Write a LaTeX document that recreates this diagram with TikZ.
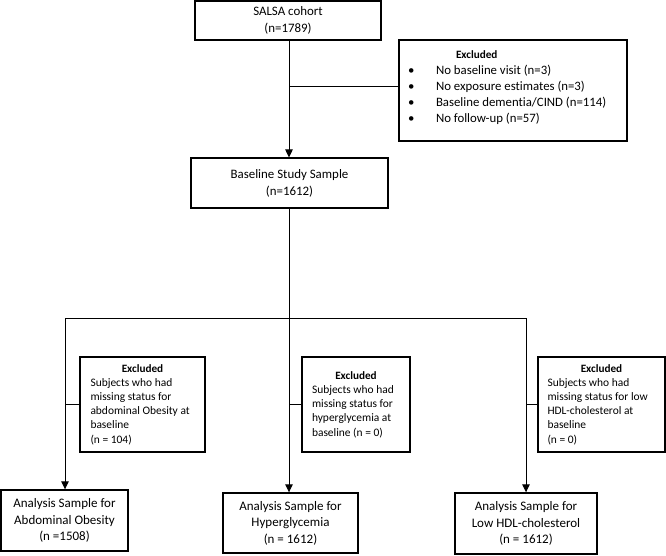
\documentclass[tikz,border=0pt]{standalone}
\usepackage{fontspec}
\setmainfont{Carlito}[Ligatures=NoCommon]
\usetikzlibrary{arrows.meta}
\begin{document}
\begin{tikzpicture}[x=1pt,y=-1pt,
  box/.style={draw, line width=1.1pt, inner sep=0pt, align=center, font=\fontsize{12.9}{17}\selectfont},
  lbox/.style={draw, line width=1.4pt, inner sep=0pt, font=\fontsize{11.45}{14.2}\selectfont},
  bbox/.style={draw, line width=1.4pt, inner sep=0pt, align=center, font=\fontsize{13}{16.5}\selectfont},
  conn/.style={line width=0.9pt},
  arr/.style={conn, -{Triangle[length=8pt,width=7.5pt]}}]
\useasboundingbox (0,0) rectangle (666,555);

\node[box, minimum width=186pt, minimum height=39pt] (salsa) at (288,20.5) {SALSA cohort\\(n=1789)};
\node[box, minimum width=228pt, minimum height=101pt] (ex0) at (513,90.5)
 {\parbox[c][101pt][t]{210pt}{\vspace*{10.5pt}\fontsize{12.8}{16}\selectfont
  \hspace*{48pt}{\fontsize{11.2}{16}\selectfont\bfseries Excluded}\\
  \makebox[28pt][l]{\textbullet}No baseline visit (n=3)\\
  \makebox[28pt][l]{\textbullet}No exposure estimates (n=3)\\
  \makebox[28pt][l]{\textbullet}Baseline dementia/CIND (n=114)\\
  \makebox[28pt][l]{\textbullet}No follow-up (n=57)}};
\node[box, minimum width=197pt, minimum height=50pt] (base) at (289.5,183) {Baseline Study Sample\\(n=1612)};

\node[lbox, minimum width=125pt, minimum height=95pt] (exl) at (142.5,404.5)
 {\parbox{104pt}{{\centering\fontsize{11.2}{14.2}\selectfont\bfseries Excluded\par}\raggedright
  Subjects who had\\missing status for\\abdominal Obesity at\\baseline\\(n = 104)}};
\node[lbox, minimum width=108pt, minimum height=95pt] (exm) at (356,404.5)
 {\parbox{88pt}{{\centering\fontsize{11.2}{14.2}\selectfont\bfseries Excluded\par}\raggedright
  Subjects who had\\missing status for\\hyperglycemia at\\baseline (n = 0)}};
\node[lbox, minimum width=127pt, minimum height=95pt] (exr) at (601.5,404.5)
 {\parbox{108pt}{{\centering\fontsize{11.2}{14.2}\selectfont\bfseries Excluded\par}\raggedright
  Subjects who had\\missing status for low\\HDL-cholesterol at\\baseline\\(n = 0)}};

\node[bbox, minimum width=127pt, minimum height=61pt] (al) at (64.5,520.5) {Analysis Sample for\\Abdominal Obesity\\(n =1508)};
\node[bbox, minimum width=135pt, minimum height=60pt] (am) at (290.5,523) {Analysis Sample for\\Hyperglycemia\\(n = 1612)};
\node[bbox, minimum width=142pt, minimum height=61pt] (ar) at (526,523.5) {Analysis Sample for\\Low HDL-cholesterol\\(n = 1612)};

\coordinate (j1) at (289,86);
\coordinate (j2) at (289,318);
\coordinate (bl) at (65,318);
\coordinate (br) at (526,318);

\draw[arr] (j1 |- salsa.south) -- (j1 |- base.north);
\draw[conn] (j1) -- (j1 -| ex0.west);
\draw[conn] (j2 |- base.south) -- (j2);
\draw[conn] (bl) -- (br);
\draw[arr] (bl) -- (bl |- al.north);
\draw[arr] (j2) -- (j2 |- am.north);
\draw[arr] (br) -- (br |- ar.north);
\draw[conn] (bl |- exl.west) -- (exl.west);
\draw[conn] (j2 |- exm.west) -- (exm.west);
\draw[conn] (br |- exr.west) -- (exr.west);
\end{tikzpicture}
\end{document}
